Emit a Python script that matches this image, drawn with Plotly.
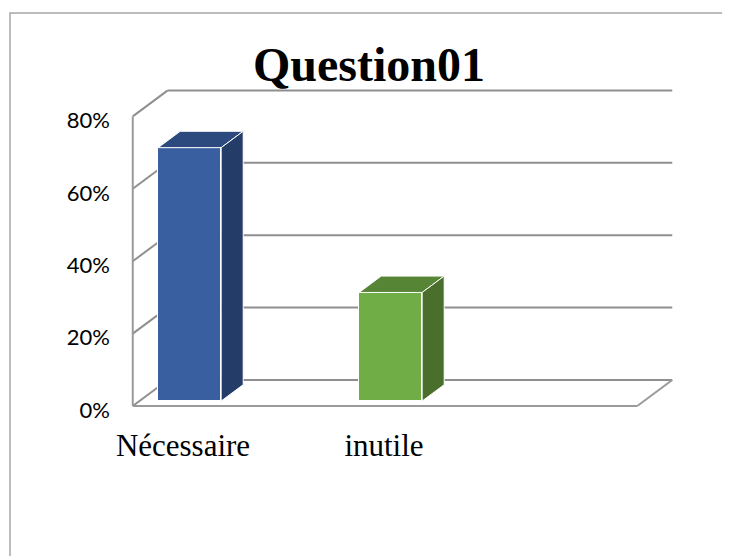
import plotly.graph_objects as go

# ---- data ----
categories = ["Nécessaire", "inutile"]
values = [70, 30]                      # percent
y_ticks = [0, 20, 40, 60, 80]
y_tick_labels = ["0%", "20%", "40%", "60%", "80%"]
title_text = "Question01"

# ---- styling / geometry (pseudo-3D, in data units) ----
front_colors = ["#3A5FA0", "#70AD47"]
top_colors = ["#2C4A7E", "#568536"]
side_colors = ["#243D68", "#4A6F2D"]
grid_color = "#8F8F8F"

PX_PER_X = 201.0      # pixels per category unit
PX_PER_Y = 3.62       # pixels per percent
DX = 35 / PX_PER_X    # depth offset (x)
DY = 26 / PX_PER_Y    # depth offset (y)
BAR_W = 63 / PX_PER_X
F0, F1 = 0.19, 0.82   # bar depth span (fraction of wall depth)
XL, XR = -0.25, 2.26  # floor extent
YMAX_AXIS = y_ticks[-1]

# page has an 8px body margin, so the figure is 8px smaller
W, H = 722, 548
ML, MR, MT, MB = 120, 30, 62, 146
plot_w = W - ML - MR
plot_h = H - MT - MB
xmin = -(175 - ML) / PX_PER_X
xmax = xmin + plot_w / PX_PER_X
ymin = -4 / PX_PER_Y
ymax = ymin + plot_h / PX_PER_Y

fig = go.Figure()

shapes = []
line = dict(color=grid_color, width=2)
# back wall gridlines and side-wall diagonals
for v in y_ticks:
    shapes.append(dict(type="line", xref="x", yref="y", layer="below",
                       x0=XL + DX, y0=v + DY, x1=XR + DX, y1=v + DY, line=line))
    shapes.append(dict(type="line", xref="x", yref="y", layer="below",
                       x0=XL, y0=v, x1=XL + DX, y1=v + DY, line=line))
# front vertical axis, front floor edge, right floor edge
edge = dict(color="#9A9A9A", width=2)
shapes.append(dict(type="line", xref="x", yref="y", layer="below",
                   x0=XL, y0=0, x1=XL, y1=YMAX_AXIS, line=edge))
shapes.append(dict(type="line", xref="x", yref="y", layer="below",
                   x0=XL, y0=0, x1=XR, y1=0, line=edge))
shapes.append(dict(type="line", xref="x", yref="y", layer="below",
                   x0=XR, y0=0, x1=XR + DX, y1=DY, line=edge))
# outer chart frame
shapes.append(dict(type="rect", xref="paper", yref="paper",
                   x0=(2 - ML) / plot_w, x1=(760 - ML) / plot_w,
                   y0=(H - MB - 620) / plot_h, y1=(H - MB - 5) / plot_h,
                   line=dict(color="#A6A6A6", width=1.5)))

xs = list(range(len(categories)))

# front faces (bars)
fig.add_trace(go.Bar(
    x=[i + F0 * DX for i in xs], y=values, base=[F0 * DY] * len(values),
    width=BAR_W, marker=dict(color=front_colors, line=dict(color="white", width=1)),
    hoverinfo="skip", showlegend=False))

# top and side faces
for i, v in zip(xs, values):
    xl, xr = i - BAR_W / 2, i + BAR_W / 2
    top_x = [xl + F0 * DX, xr + F0 * DX, xr + F1 * DX, xl + F1 * DX, xl + F0 * DX]
    top_y = [v + F0 * DY, v + F0 * DY, v + F1 * DY, v + F1 * DY, v + F0 * DY]
    fig.add_trace(go.Scatter(x=top_x, y=top_y, fill="toself", mode="lines",
                             fillcolor=top_colors[i], line=dict(color="white", width=1),
                             hoverinfo="skip", showlegend=False))
    side_x = [xr + F0 * DX, xr + F1 * DX, xr + F1 * DX, xr + F0 * DX, xr + F0 * DX]
    side_y = [F0 * DY, F1 * DY, v + F1 * DY, v + F0 * DY, F0 * DY]
    fig.add_trace(go.Scatter(x=side_x, y=side_y, fill="toself", mode="lines",
                             fillcolor=side_colors[i], line=dict(color="white", width=1),
                             hoverinfo="skip", showlegend=False))

fig.update_layout(
    width=W, height=H,
    margin=dict(l=ML, r=MR, t=MT, b=MB, autoexpand=False),
    paper_bgcolor="white", plot_bgcolor="rgba(0,0,0,0)",
    shapes=shapes,
    title=dict(text="<b>" + title_text + "</b>", x=361 / W, xanchor="center",
               y=1 - 56 / H, yanchor="middle",
               font=dict(family="Liberation Serif", size=48, color="black")),
    xaxis=dict(range=[xmin, xmax], tickvals=xs, ticktext=categories,
               showgrid=False, zeroline=False, showline=False, ticks="",
               tickfont=dict(family="Liberation Serif", size=31, color="black"),
               ticklabelstandoff=14, fixedrange=True),
    yaxis=dict(range=[ymin, ymax], tickvals=y_ticks, ticktext=y_tick_labels,
               showgrid=False, zeroline=False, showline=False, ticks="",
               tickfont=dict(family="Lato", size=22, color="black"),
               ticklabelstandoff=17, ticklabelshift=4, fixedrange=True),
    bargap=0,
)

fig.write_html("out.html")
